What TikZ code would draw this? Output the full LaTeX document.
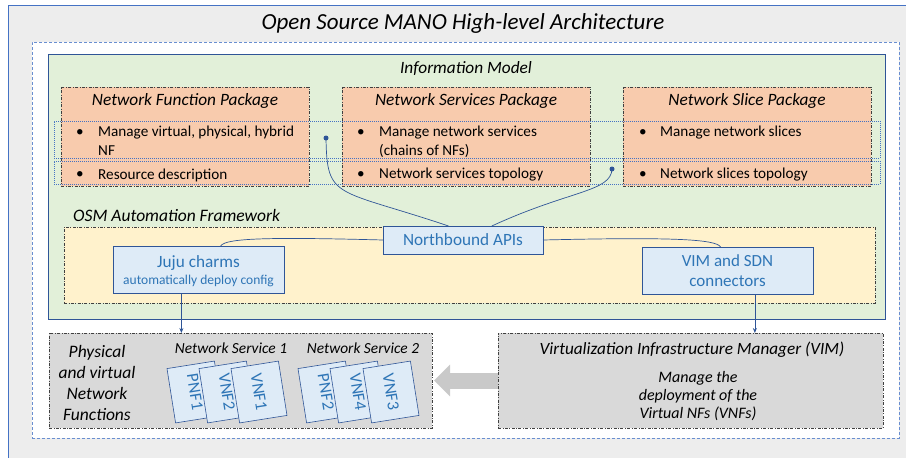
\documentclass[tikz,border=0pt]{standalone}
\usepackage{fontspec}
\setmainfont{Carlito}
\usetikzlibrary{arrows.meta,calc}
\definecolor{outerbg}{HTML}{EDEDED}
\definecolor{frameblue}{HTML}{4472C4}
\definecolor{darkblue}{HTML}{2F5597}
\definecolor{greenfill}{HTML}{E2F0D9}
\definecolor{orangefill}{HTML}{F8CBAD}
\definecolor{yellowfill}{HTML}{FFF2CC}
\definecolor{bluefill}{HTML}{DEEBF7}
\definecolor{bluetext}{HTML}{2E75B6}
\definecolor{grayfill}{HTML}{D9D9D9}
\definecolor{arrowgray}{HTML}{C9C9C9}
\definecolor{dashgray}{HTML}{404040}
\tikzset{
  rect/.style={anchor=north west, inner sep=0pt, outer sep=0pt},
  dashdot/.style={draw=dashgray, line width=0.6pt, dash pattern=on 3pt off 1.5pt on 0.8pt off 1.5pt},
  pkgbox/.style={rect, dashdot, fill=orangefill},
  graybox/.style={rect, dashdot, fill=grayfill},
  bluebox/.style={rect, draw=darkblue, line width=0.7pt, fill=bluefill, text=bluetext, align=center},
  band/.style={rect, draw=frameblue, line width=0.6pt, dash pattern=on 1pt off 1pt},
  link/.style={draw=darkblue, line width=0.7pt},
  dotend/.style={circle, fill=darkblue, inner sep=0pt, minimum size=5pt},
  nfbox/.style={draw=darkblue, line width=0.6pt, fill=bluefill, text=bluetext, inner sep=0pt,
     minimum width=55pt, minimum height=48pt, font=\fontsize{17}{20}\selectfont},
  txt/.style={inner sep=0pt, anchor=west, font=\fontsize{15.2}{18}\selectfont},
  ital/.style={inner sep=0pt, font=\fontsize{17.3}{20}\selectfont\itshape},
}
\begin{document}
\begin{tikzpicture}[x=1pt,y=-1pt]
\useasboundingbox (0,0) rectangle (906,458);
% outer frame
\node[rect, fill=outerbg, draw=frameblue, line width=0.8pt, minimum width=910pt, minimum height=460pt] (outer) at (8,5) {};
\node[inner sep=0pt, font=\fontsize{23}{27}\selectfont\itshape] (title) at (463,23) {Open Source MANO High-level Architecture};
% dashed white frame
\node[rect, fill=white, draw=frameblue!80, line width=0.7pt, dash pattern=on 3pt off 2pt, minimum width=867pt, minimum height=396pt] (mano) at (32,42) {};
% green information model
\node[rect, fill=greenfill, draw=darkblue, line width=0.8pt, minimum width=837pt, minimum height=265pt] (im) at (48,54) {};
\node[ital] (imlabel) at (466,69) {Information Model};
% packages
\node[pkgbox, minimum width=248pt, minimum height=99pt] (nfp) at (61,87) {};
\node[pkgbox, minimum width=248pt, minimum height=99pt] (nsp) at (342,87) {};
\node[pkgbox, minimum width=248pt, minimum height=99pt] (nslp) at (623,87) {};
\node[ital] (nfpt) at (185,101) {Network Function Package};
\node[ital] (nspt) at (466,101) {Network Services Package};
\node[ital] (nslpt) at (747,101) {Network Slice Package};
% bullets
\node[txt] (b1) at (76,133) {•};
\node[txt] (t1) at (98,133) {Manage virtual, physical, hybrid};
\node[txt] (t1b) at (98,151) {NF};
\node[txt] (b2) at (76,175) {•};
\node[txt] (t2) at (98,175) {Resource description};
\node[txt] (b3) at (357,133) {•};
\node[txt] (t3) at (379,133) {Manage network services};
\node[txt] (t3b) at (379,151) {(chains of NFs)};
\node[txt] (b4) at (357,175) {•};
\node[txt] (t4) at (379,175) {Network services topology};
\node[txt] (b5) at (639,133) {•};
\node[txt] (t5) at (660,133) {Manage network slices};
\node[txt] (b6) at (639,175) {•};
\node[txt] (t6) at (660,175) {Network slices topology};
% dotted bands
\node[band, minimum width=826pt, minimum height=37pt] (band1) at (54,121) {};
\node[band, minimum width=826pt, minimum height=23pt] (band2) at (54,161) {};
% automation framework
\node[ital, anchor=west, font=\fontsize{17.5}{20}\selectfont\itshape] (osmlabel) at (73,215) {OSM Automation Framework};
\node[rect, dashdot, fill=yellowfill, minimum width=811pt, minimum height=76pt] (osm) at (64,227) {};
\node[bluebox, minimum width=160pt, minimum height=28pt, font=\fontsize{17.2}{20}\selectfont] (nb) at (383,226) {Northbound APIs};
\node[bluebox, minimum width=171pt, minimum height=47pt] (juju) at (113,246) {};
\node[inner sep=0pt, text=bluetext, font=\fontsize{17.2}{20}\selectfont] (jujut) at (198.5,263) {Juju charms};
\node[inner sep=0pt, text=bluetext, font=\fontsize{13.5}{16}\selectfont] (jujus) at (198.5,281) {automatically deploy config};
\node[bluebox, minimum width=171pt, minimum height=47pt, font=\fontsize{17}{20}\selectfont] (vimc) at (642,247) {VIM and SDN\\connectors};
% dots and links
\node[dotend] (d1) at (326,138) {};
\node[dotend] (d2) at (612,169) {};
\coordinate (nbt1) at ($(nb.north west)!0.41!(nb.north east)$);
\coordinate (nbt2) at ($(nb.north west)!0.68!(nb.north east)$);
\draw[link] (d1.center) .. controls (327,200) and (335,188) .. (nbt1);
\draw[link] (d2.center) .. controls (611,192) and (570,190) .. (nbt2);
\coordinate (jujutop) at ($(juju.north west)!0.63!(juju.north east)$);
\coordinate (vimtop) at ($(vimc.north west)!0.46!(vimc.north east)$);
\draw[link] (nb.west) .. controls (270,237) and (225,238) .. (jujutop);
\draw[link] (nb.east) .. controls (670,237) and (716,239) .. (vimtop);
% bottom boxes
\node[graybox, minimum width=383pt, minimum height=95pt] (nf) at (49,333) {};
\node[graybox, minimum width=385pt, minimum height=95pt] (vim) at (498,333) {};
\coordinate (jujubot) at ($(juju.south west)!0.40!(juju.south east)$);
\coordinate (vimcbot) at ($(vimc.south west)!0.66!(vimc.south east)$);
\draw[link, -{Stealth[length=5pt,width=4pt]}] (jujubot) -- (jujubot |- nf.north);
\draw[link, -{Stealth[length=5pt,width=4pt]}] (vimcbot) -- (vimcbot |- vim.north);
\node[ital, align=center, font=\fontsize{17.5}{21}\selectfont\itshape] (nflabel) at (97,383) {Physical\\and virtual\\Network\\Functions};
\node[ital, font=\fontsize{15.4}{18}\selectfont\itshape] (ns1) at (231,348) {Network Service 1};
\node[ital, font=\fontsize{15.4}{18}\selectfont\itshape] (ns2) at (363,348) {Network Service 2};
\node[nfbox, rotate=-81] (pnf1) at (195,392) {PNF1};
\node[nfbox, rotate=-81] (vnf2) at (227,392) {VNF2};
\node[nfbox, rotate=-81] (vnf1) at (259,392) {VNF1};
\node[nfbox, rotate=-81] (pnf2) at (326,392) {PNF2};
\node[nfbox, rotate=-81] (vnf4) at (358,392) {VNF4};
\node[nfbox, rotate=-81] (vnf3) at (391,392) {VNF3};
\node[ital, font=\fontsize{17.2}{20}\selectfont\itshape] (vimt) at (692,350) {Virtualization Infrastructure Manager (VIM)};
\node[ital, align=center, font=\fontsize{16}{18}\selectfont\itshape] (vimd) at (698,396) {Manage the\\deployment of the\\Virtual NFs (VNFs)};
% big gray arrow
\draw[arrowgray, line width=16pt, -{Triangle[length=16pt,width=31pt]}] (vim.west) -- ([xshift=2pt]nf.east);
\end{tikzpicture}
\end{document}
